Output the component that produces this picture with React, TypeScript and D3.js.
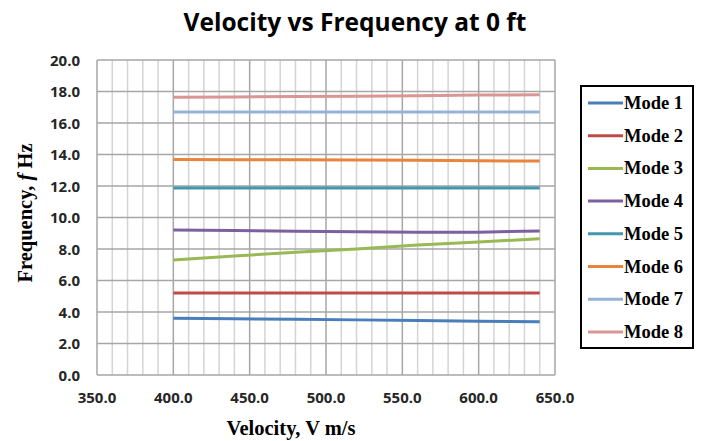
import { useEffect, useRef } from 'react';
import * as d3 from 'd3';

const velocities = [400, 440, 480, 520, 560, 600, 640];
const modeNames = ['Mode 1', 'Mode 2', 'Mode 3', 'Mode 4', 'Mode 5', 'Mode 6', 'Mode 7', 'Mode 8'];
const mode1 = [3.6, 3.57, 3.54, 3.5, 3.46, 3.42, 3.38];
const mode2 = [5.2, 5.2, 5.2, 5.2, 5.2, 5.2, 5.2];
const mode3 = [7.3, 7.55, 7.8, 8.0, 8.25, 8.45, 8.65];
const mode4 = [9.2, 9.17, 9.13, 9.1, 9.07, 9.07, 9.15];
const mode5 = [11.88, 11.88, 11.88, 11.88, 11.88, 11.88, 11.88];
const mode6 = [13.68, 13.67, 13.66, 13.65, 13.63, 13.6, 13.58];
const mode7 = [16.7, 16.7, 16.7, 16.7, 16.7, 16.7, 16.7];
const mode8 = [17.63, 17.65, 17.68, 17.7, 17.73, 17.77, 17.8];
const colors = ['#4a7ebb', '#be4b48', '#98b954', '#7d60a0', '#4198af', '#e8843c', '#95b3d7', '#d99694'];
const xTicks = [350, 400, 450, 500, 550, 600, 650];
const yTicks = [0, 2, 4, 6, 8, 10, 12, 14, 16, 18, 20];

const App = () => {
    const svgRef = useRef<SVGSVGElement>(null);

    useEffect(() => {
        const width = 704;
        const height = 441;
        const margin = { top: 60, right: 149, bottom: 66, left: 97 };
        const allModes = [mode1, mode2, mode3, mode4, mode5, mode6, mode7, mode8];

        const svg = d3.select(svgRef.current)
            .attr('width', width)
            .attr('height', height);
        svg.selectAll('*').remove();

        svg.append('rect').attr('width', width).attr('height', height).attr('fill', 'white');

        const x = d3.scaleLinear().domain([350, 650]).range([margin.left, width - margin.right]);
        const y = d3.scaleLinear().domain([0, 20]).range([height - margin.bottom, margin.top]);

        // grid: minor verticals every 10, major every 50
        svg.append('g').selectAll('line')
            .data(d3.range(350, 651, 10).filter(v => v % 50 !== 0))
            .enter().append('line')
            .attr('x1', d => x(d)).attr('x2', d => x(d))
            .attr('y1', y(0)).attr('y2', y(20))
            .attr('stroke', '#d4d4d4').attr('stroke-width', 1.5);

        svg.append('g').selectAll('line')
            .data(xTicks)
            .enter().append('line')
            .attr('x1', d => x(d)).attr('x2', d => x(d))
            .attr('y1', y(0)).attr('y2', y(20))
            .attr('stroke', '#a6a6a6').attr('stroke-width', 1.5);

        svg.append('g').selectAll('line')
            .data(yTicks)
            .enter().append('line')
            .attr('x1', x(350)).attr('x2', x(650))
            .attr('y1', d => y(d)).attr('y2', d => y(d))
            .attr('stroke', '#a6a6a6').attr('stroke-width', 1.5);

        // tick labels
        svg.append('g').selectAll('text')
            .data(yTicks)
            .enter().append('text')
            .attr('x', 80).attr('y', d => y(d) + 5.5)
            .attr('text-anchor', 'end')
            .style('font-family', '"Open Sans", sans-serif')
            .style('font-weight', 'bold')
            .style('font-size', '15px')
            .style('fill', '#262626')
            .text(d => d.toFixed(1));

        svg.append('g').selectAll('text')
            .data(xTicks)
            .enter().append('text')
            .attr('x', d => x(d)).attr('y', 403)
            .attr('text-anchor', 'middle')
            .style('font-family', '"Open Sans", sans-serif')
            .style('font-weight', 'bold')
            .style('font-size', '15px')
            .style('fill', '#262626')
            .text(d => d.toFixed(1));

        // lines
        const line = d3.line<number>()
            .x((_, i) => x(velocities[i]))
            .y(d => y(d));

        svg.append('g').selectAll('path')
            .data(allModes)
            .enter().append('path')
            .attr('d', d => line(d))
            .attr('fill', 'none')
            .attr('stroke', (_, i) => colors[i])
            .attr('stroke-width', 3);

        // title
        svg.append('text')
            .attr('x', 355).attr('y', 31)
            .attr('text-anchor', 'middle')
            .style('font-family', '"Open Sans", sans-serif')
            .style('font-weight', 'bold')
            .style('font-size', '24.5px')
            .style('fill', '#000')
            .text('Velocity vs Frequency at 0 ft');

        // axis titles
        svg.append('text')
            .attr('x', 291).attr('y', 435)
            .attr('text-anchor', 'middle')
            .style('font-family', '"Liberation Serif", serif')
            .style('font-weight', 'bold')
            .style('font-size', '20.5px')
            .text('Velocity, V m/s');

        const yTitle = svg.append('text')
            .attr('transform', 'translate(32, 213) rotate(-90)')
            .attr('text-anchor', 'middle')
            .style('font-family', '"Liberation Serif", serif')
            .style('font-weight', 'bold')
            .style('font-size', '20.5px');
        yTitle.append('tspan').text('Frequency, ');
        yTitle.append('tspan').style('font-style', 'italic').text('f');
        yTitle.append('tspan').text(' Hz');

        // legend
        const legend = svg.append('g');
        legend.append('rect')
            .attr('x', 581).attr('y', 86)
            .attr('width', 112).attr('height', 262)
            .attr('fill', 'white')
            .attr('stroke', 'black')
            .attr('stroke-width', 2);

        const items = legend.selectAll('g.item')
            .data(modeNames)
            .enter().append('g')
            .attr('class', 'item')
            .attr('transform', (_, i) => `translate(0, ${103 + i * 32.7})`);
        items.append('line')
            .attr('x1', 588).attr('x2', 623)
            .attr('stroke', (_, i) => colors[i])
            .attr('stroke-width', 3);
        items.append('text')
            .attr('x', 624).attr('y', 6)
            .style('font-family', '"Liberation Serif", serif')
            .style('font-weight', 'bold')
            .style('font-size', '18.5px')
            .text(d => d);
    }, []);

    return <svg ref={svgRef} style={{ position: 'absolute', left: 0, top: 0 }} />;
};

export default App;
